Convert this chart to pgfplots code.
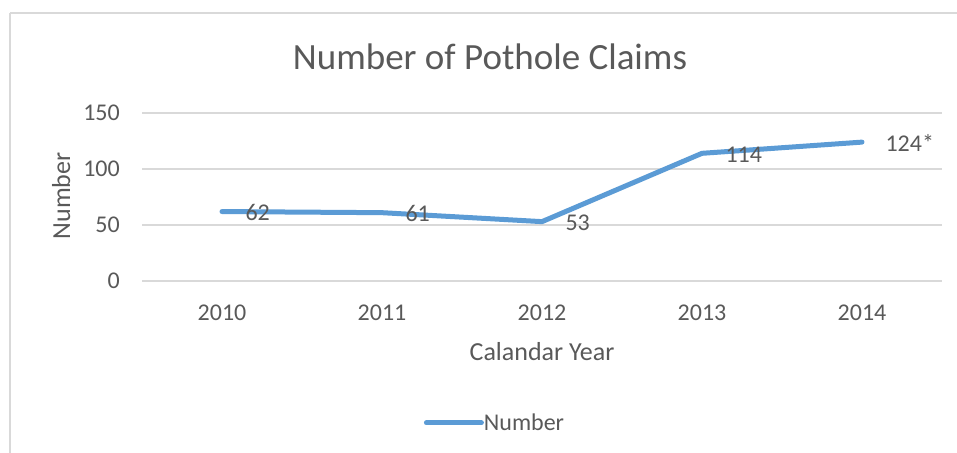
\documentclass[border=0pt]{standalone}
\usepackage{pgfplots}
\pgfplotsset{compat=1.18}
\usepackage{fontspec}
\setmainfont{Carlito}
\definecolor{txt}{HTML}{595959}
\definecolor{grd}{HTML}{D9D9D9}
\definecolor{ln}{HTML}{5B9BD5}
\begin{document}
\begin{tikzpicture}
\path[use as bounding box] (0bp,0bp) rectangle (957bp,453bp);
\draw[grd, line width=1.5bp] (10bp,440bp) -- (960bp,440bp);
\draw[grd, line width=1.5bp] (10bp,440bp) -- (10bp,-5bp);
\begin{axis}[
 at={(142bp,172bp)}, anchor=south west,
 scale only axis, width=800bp, height=168bp,
 xmin=-0.5, xmax=4.5, ymin=0, ymax=150,
 xtick={0,...,4}, xticklabels={2010,2011,2012,2013,2014},
 ytick={0,50,100,150},
 axis line style={draw=none},
 major tick length=0pt,
 ymajorgrids, grid style={grd, line width=1.5bp},
 tick label style={txt, font=\fontsize{24bp}{28bp}\selectfont, inner sep=0pt},
 x tick label style={anchor=north, yshift=-24bp},
 y tick label style={anchor=east, xshift=-22bp},
 /pgf/number format/assume math mode=true,
 nodes near coords, point meta=explicit symbolic,
 nodes near coords style={anchor=west, inner sep=0pt, xshift=21bp, yshift=-1bp, txt, font=\fontsize{24bp}{28bp}\selectfont},
 clip=false,
 legend style={at={(axis description cs:0.44,-0.845)}, anchor=center, draw=none, fill=none,
   font=\fontsize{24bp}{28bp}\selectfont, text=txt, inner sep=0pt, nodes={inner sep=0pt},
   /tikz/every even column/.append style={column sep=5bp}},
 legend image code/.code={\draw[#1] (0bp,0bp) -- (55bp,0bp);},
]
\addplot[ln, line width=5bp, line cap=round, line join=round] table[meta=label] {
x y label
0 62 62
1 61 61
2 53 53
3 114 114
4 124 124*
};
\addlegendentry{Number}
\end{axis}
\node[txt, font=\fontsize{37bp}{41bp}\selectfont, anchor=base] at (490bp,383bp) {Number of Pothole Claims};
\node[txt, font=\fontsize{26bp}{30bp}\selectfont, anchor=base] at (542bp,92bp) {Calandar Year};
\node[txt, font=\fontsize{26bp}{30bp}\selectfont, anchor=base, rotate=90] at (70bp,257bp) {Number};
\end{tikzpicture}
\end{document}
